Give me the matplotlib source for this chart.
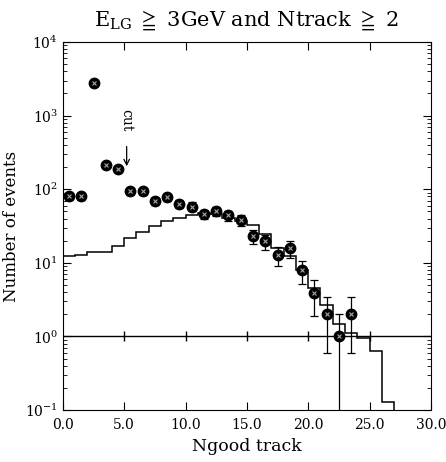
import matplotlib
matplotlib.use("Agg")
import matplotlib.pyplot as plt
import numpy as np

plt.rcParams['font.family'] = ['DejaVu Serif', 'DejaVu Sans']
plt.rcParams['mathtext.fontset'] = 'dejavuserif'

# Data points (Ngood track bin centres) and counts
data_x = [0.5, 1.5, 2.5, 3.5, 4.5, 5.5, 6.5, 7.5, 8.5, 9.5, 10.5, 11.5,
          12.5, 13.5, 14.5, 15.5, 16.5, 17.5, 18.5, 19.5, 20.5, 21.5, 22.5, 23.5]
data_y = [80, 80, 2800, 213, 188, 94, 94, 69, 78, 63, 58, 46,
          50, 44, 38, 23, 19.5, 12.7, 15.8, 7.9, 3.9, 2.0, 1.0, 2.0]
data_err = [9, 9, 53, 15, 14, 10, 10, 8, 9, 8, 8, 7,
            7, 7, 6, 4.8, 4.4, 3.6, 4.0, 2.8, 2.0, 1.4, 1.0, 1.4]

# Monte Carlo histogram (bin edges 0..27)
mc_edges = list(range(0, 28))
mc_values = [12.4, 12.8, 14.1, 14.1, 17, 22, 26, 32, 37, 40.5, 44, 48, 46,
             40.5, 36.5, 32.5, 24.5, 15.7, 12.4, 8.0, 4.6, 2.7, 1.46, 1.12,
             0.95, 0.63, 0.13]

x_ticks = [0, 5, 10, 15, 20, 25, 30]
x_ticklabels = ["0.0", "5.0", "10.0", "15.0", "20.0", "25.0", "30.0"]

fig = plt.figure(figsize=(4.46, 4.62), dpi=100)
ax = fig.add_axes([0.141, 0.1126, 0.825, 0.7964])

ax.set_yscale('log')
ax.set_xlim(0, 30)
ax.set_ylim(0.1, 1e4)

ax.stairs(mc_values, mc_edges, baseline=1e-3, color='black', lw=1.1)

ax.axhline(1.0, color='black', lw=1.0)
ax.plot(x_ticks[1:-1], [1.0] * (len(x_ticks) - 2), '|', color='black', ms=7, mew=1.0)

ax.errorbar(data_x, data_y, yerr=data_err, fmt='o', color='black', ms=7.5,
            mfc='black', mec='black', ecolor='black', elinewidth=0.9,
            capsize=3, capthick=0.9, zorder=3)
ax.plot(data_x, data_y, 'x', color='0.65', ms=3, mew=0.8, zorder=4)

ax.annotate('cut', xy=(5.2, 205), xytext=(5.2, 870), rotation=270,
            ha='center', va='center', fontsize=10,
            arrowprops=dict(arrowstyle='->', color='black', lw=0.9,
                            shrinkA=9, shrinkB=0))

ax.set_xticks(x_ticks)
ax.set_xticklabels(x_ticklabels)
ax.tick_params(which='both', direction='in', top=True, right=True, labelsize=10)
ax.tick_params(which='major', length=6)
ax.tick_params(which='minor', length=3)
ax.tick_params(axis='x', pad=6)

ax.set_xlabel('Ngood track', fontsize=12.5)
ax.set_ylabel('Number of events', fontsize=12)
ax.set_title(r'E$_{\mathrm{LG}}$ $\geqq$ 3GeV and Ntrack $\geqq$ 2', fontsize=15, pad=12)

fig.savefig('out.png', dpi=100)
